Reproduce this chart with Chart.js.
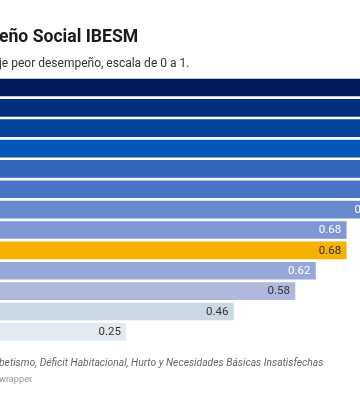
<!DOCTYPE html>
<html>
<head>
<meta charset="utf-8">
<script src="https://cdn.jsdelivr.net/npm/chart.js@4"></script>
<style>
  html, body { margin: 0; padding: 0; background: #fff; overflow: hidden; }
  body { width: 360px; height: 398px; position: relative; font-family: Roboto, "Noto Sans", sans-serif; }
  #wrap { position: absolute; left: 0; top: 0; width: 360px; height: 398px; }
  .t { position: absolute; white-space: nowrap; }
  #title { left: -1px; top: 26px; font-size: 17.6px; font-weight: 700; color: #1a1a1a; }
  #sub { left: -1px; top: 56px; font-size: 12px; color: #333; }
  #foot { left: -1px; top: 356px; font-size: 10.3px; font-style: italic; color: #666; }
  #credit { left: -1px; top: 373px; font-size: 9.2px; color: #999; }
</style>
</head>
<body>
<div id="wrap"><canvas id="c" width="360" height="398"></canvas></div>
<div class="t" id="title">eño Social IBESM</div>
<div class="t" id="sub">je peor desempeño, escala de 0 a 1.</div>
<div class="t" id="foot">betismo, Déficit Habitacional, Hurto y Necesidades Básicas Insatisfechas</div>
<div class="t" id="credit">wrapper</div>
<script>
const categories = ["Municipio 1","Municipio 2","Municipio 3","Municipio 4","Municipio 5","Municipio 6","Municipio 7","Municipio 8","Municipio 9","Municipio 10","Municipio 11","Municipio 12","Municipio 13"];
const values = [0.95, 0.90, 0.87, 0.84, 0.81, 0.78, 0.75, 0.68, 0.68, 0.62, 0.58, 0.46, 0.25];
const barColors = ["#011a5c","#022f7e","#05449c","#0457b6","#3467bb","#4b74c5","#668acd","#7f98d5","#f7b100","#97a7d8","#b0b9dd","#c9d9e4","#e3ebf1"];
const labelColors = ["#fff","#fff","#fff","#fff","#fff","#fff","#fff","#fff","#333","#fff","#333","#333","#333"];

const valueLabels = {
  id: 'valueLabels',
  afterDatasetsDraw(chart) {
    const ctx = chart.ctx;
    const meta = chart.getDatasetMeta(0);
    ctx.save();
    ctx.font = '11.5px Roboto, sans-serif';
    ctx.textAlign = 'right';
    ctx.textBaseline = 'middle';
    meta.data.forEach((bar, i) => {
      ctx.fillStyle = labelColors[i];
      ctx.fillText(values[i].toFixed(2), bar.x - 5, bar.y + 0.5);
    });
    ctx.restore();
  }
};

new Chart(document.getElementById('c'), {
  type: 'bar',
  data: {
    labels: categories,
    datasets: [{
      data: values,
      backgroundColor: barColors,
      borderWidth: 0,
      barThickness: 17
    }]
  },
  options: {
    indexAxis: 'y',
    responsive: false,
    animation: false,
    events: [],
    layout: { padding: { left: 0, right: 0, top: 77.3, bottom: 56 } },
    plugins: { legend: { display: false }, tooltip: { enabled: false }, title: { display: false } },
    scales: {
      x: { min: 0.004, max: 0.707, display: false, grid: { display: false } },
      y: { display: false, grid: { display: false } }
    }
  },
  plugins: [valueLabels]
});
</script>
</body>
</html>
